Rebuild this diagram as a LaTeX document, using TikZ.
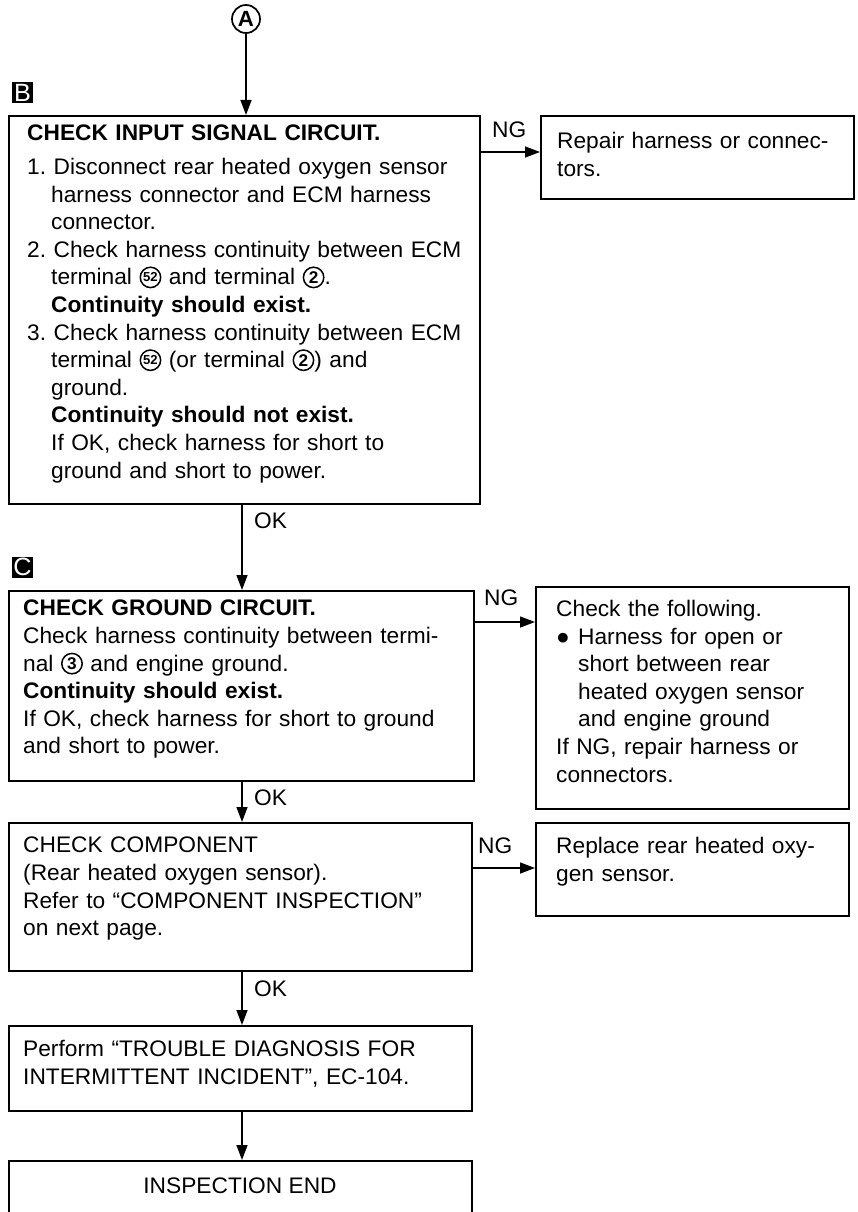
\documentclass[tikz,border=0pt]{standalone}
\usepackage{fontspec}
\setmainfont{Liberation Sans}[FakeStretch=1.01]
\usetikzlibrary{arrows.meta}
\newcommand\fs{\fontsize{22.5}{27.6}\selectfont}
\newcommand\ind{\hspace*{24pt}}
\newcommand\bind{\hspace*{22pt}}
\newcommand\cnum[2][17pt]{\tikz[baseline=-7.5pt]{\draw[line width=1.5pt] (0,0) circle[radius=10.2pt]; \pgftext{\fontsize{#1}{#1}\selectfont\bfseries #2}}}
\frenchspacing
\begin{document}
\begin{tikzpicture}[x=1pt,y=-1pt,
  box/.style={draw,line width=1.6pt,anchor=north west,inner sep=0pt},
  txt/.style={anchor=north west,align=left,inner sep=0pt,text width=#1,font=\fs},
  txt/.default=450pt,
  lbl/.style={anchor=base west,inner sep=0pt,font=\fs},
  tag/.style={fill=black,text=white,minimum size=21pt,inner sep=0pt,font=\fontsize{25}{25}\selectfont},
  arr/.style={-{Triangle[length=15pt,width=11pt]},line width=1.4pt}]
\useasboundingbox[fill=white] (0,0) rectangle (857,1212);
% top connector circle
\node[circle,draw,line width=1.7pt,minimum size=28pt,inner sep=0pt,font=\fontsize{22}{22}\selectfont\bfseries] (A) at (246,19) {A};
\node[tag] (tB) at (22.5,92.5) {B};
\node[tag] (tC) at (22.5,567) {C};
\coordinate (col) at (242,0);
% boxes
\node[box,minimum width=471pt,minimum height=388pt] (B) at (8,115) {};
\node[box,minimum width=313pt,minimum height=83pt] (B1) at (540,115) {};
\node[box,minimum width=465pt,minimum height=190pt] (C) at (8,590) {};
\node[box,minimum width=313pt,minimum height=222pt] (C1) at (535,586) {};
\node[box,minimum width=463pt,minimum height=148pt] (D) at (8,822) {};
\node[box,minimum width=313pt,minimum height=93pt] (D1) at (535,822) {};
\node[box,minimum width=463pt,minimum height=85pt] (E) at (8,1025) {};
\node[box,minimum width=463pt,minimum height=80pt] (F) at (8,1160) {};
% texts
\node[txt] (tb) at (27,125) {\textbf{CHECK INPUT SIGNAL CIRCUIT.}\\[6pt]
1. Disconnect rear heated oxygen sensor\\
\ind harness connector and ECM harness\\
\ind connector.\\
2. Check harness continuity between ECM\\
\ind terminal \cnum[13pt]{52} and terminal \cnum{2}.\\
\ind\textbf{Continuity should exist.}\\
3. Check harness continuity between ECM\\
\ind terminal \cnum[13pt]{52} (or terminal \cnum{2}) and\\
\ind ground.\\
\ind\textbf{Continuity should not exist.}\\
\ind If OK, check harness for short to\\
\ind ground and short to power.};
\node[txt=290pt] (tb1) at (557,132) {Repair harness or connec-\\tors.};
\node[txt] (tc) at (23,600) {\textbf{CHECK GROUND CIRCUIT.}\\
Check harness continuity between termi-\\
nal \cnum{3} and engine ground.\\
\textbf{Continuity should exist.}\\
If OK, check harness for short to ground\\
and short to power.};
\node[txt=290pt] (tc1) at (556,600) {Check the following.\\
\makebox[22pt][l]{●}Harness for open or\\
\bind short between rear\\
\bind heated oxygen sensor\\
\bind and engine ground\\
If NG, repair harness or\\
connectors.};
\node[txt] (td) at (23,837) {CHECK COMPONENT\\
(Rear heated oxygen sensor).\\
Refer to “COMPONENT INSPECTION”\\
on next page.};
\node[txt=290pt] (td1) at (556,837) {Replace rear heated oxy-\\gen sensor.};
\node[txt] (te) at (23,1040) {Perform “TROUBLE DIAGNOSIS FOR\\
INTERMITTENT INCIDENT”, EC-104.};
\node[anchor=base,inner sep=0pt,font=\fs] (tf) at (240,1193) {INSPECTION END};
% labels
\node[lbl] (ng1) at (492,138) {NG};
\node[lbl] (ng2) at (484,605) {NG};
\node[lbl] (ng3) at (478,853) {NG};
\node[lbl] (ok1) at (254,528) {OK};
\node[lbl] (ok2) at (254,805) {OK};
\node[lbl] (ok3) at (254,996) {OK};
% connectors
\draw[arr] (A.south) -- (A.south |- B.north);
\draw[arr] (B.south -| col) -- (C.north -| col);
\draw[arr] (C.south -| col) -- (D.north -| col);
\draw[arr] (D.south -| col) -- (E.north -| col);
\draw[arr] (E.south -| col) -- (F.north -| col);
\draw[arr] (B.east |- 0,152) -- (B1.west |- 0,152);
\draw[arr] (C.east |- 0,622) -- (C1.west |- 0,622);
\draw[arr] (D.east |- 0,868) -- (D1.west |- 0,868);
\end{tikzpicture}
\end{document}
